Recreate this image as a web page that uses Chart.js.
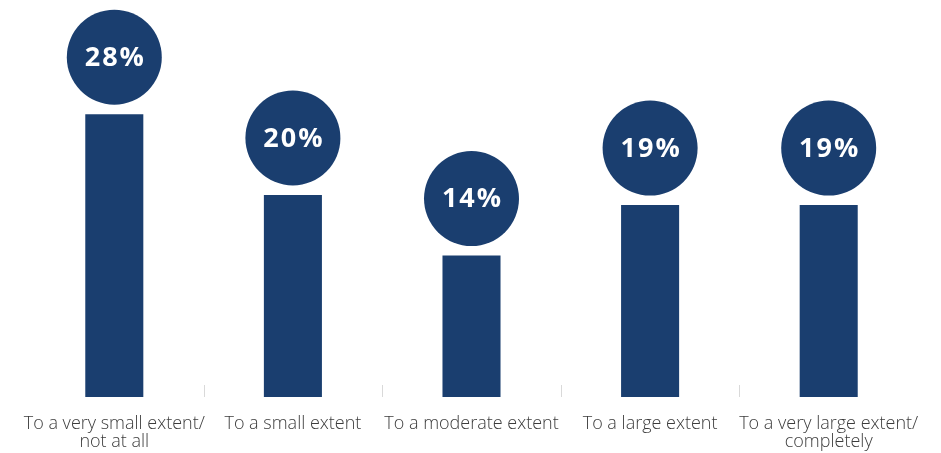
<!DOCTYPE html>
<html>
<head>
<meta charset="utf-8">
<script src="https://cdn.jsdelivr.net/npm/chart.js@4"></script>
<style>
  html, body { margin: 0; padding: 0; background: #ffffff; }
  #wrap { width: 941px; height: 453px; }
</style>
</head>
<body>
<div id="wrap"><canvas id="chart"></canvas></div>
<script>
// data
const categories = [
  ["To a very small extent/", "not at all"],
  "To a small extent",
  "To a moderate extent",
  "To a large extent",
  ["To a very large extent/", "completely"]
];
const shares = [28, 20, 14, 19, 19];
const shareLabels = ["28%", "20%", "14%", "19%", "19%"];

const navy = "#1a3e6f";

// circle badge with the percentage above each bar
const badgePlugin = {
  id: "badges",
  afterDatasetsDraw(chart) {
    const ctx = chart.ctx;
    const bars = chart.getDatasetMeta(0).data;
    ctx.save();
    for (let i = 0; i < bars.length; i++) {
      let b = bars[i];
      let cy = b.y - 57;
      ctx.beginPath();
      ctx.arc(b.x, cy, 47.5, 0, Math.PI * 2);
      ctx.fillStyle = navy;
      ctx.fill();
      ctx.fillStyle = "#ffffff";
      ctx.font = "bold 27px 'Open Sans'";
      ctx.letterSpacing = "2px";
      ctx.textAlign = "center";
      ctx.textBaseline = "middle";
      ctx.fillText(shareLabels[i], b.x + 1, cy + 1);
    }
    ctx.restore();
  }
};

// small grey separators between the categories
const sepPlugin = {
  id: "separators",
  afterDraw(chart) {
    const ctx = chart.ctx;
    const x = chart.scales.x;
    const bottom = chart.chartArea.bottom;
    ctx.save();
    ctx.strokeStyle = "#d9d9d9";
    ctx.lineWidth = 1;
    for (let i = 0; i < categories.length - 1; i++) {
      let px = Math.round((x.getPixelForValue(i) + x.getPixelForValue(i + 1)) / 2) + 0.5;
      ctx.beginPath();
      ctx.moveTo(px, bottom - 12);
      ctx.lineTo(px, bottom);
      ctx.stroke();
    }
    ctx.restore();
  }
};

new Chart(document.getElementById("chart"), {
  type: "bar",
  data: {
    labels: categories,
    datasets: [{
      data: shares,
      backgroundColor: navy,
      barPercentage: 0.325,
      categoryPercentage: 1
    }]
  },
  options: {
    responsive: true,
    maintainAspectRatio: false,
    animation: false,
    layout: { padding: { left: 25, right: 23, top: 0, bottom: 0 } },
    scales: {
      x: {
        grid: { display: false },
        border: { display: false },
        ticks: {
          color: "#3c3c3c",
          font: { family: "'Open Sans'", size: 18, weight: 300, lineHeight: 1.05 },
          padding: 9,
          maxRotation: 0,
          autoSkip: false
        },
        afterFit(scale) { scale.height = 56; }
      },
      y: {
        display: false,
        min: 0,
        max: 39.3
      }
    },
    plugins: {
      legend: { display: false },
      tooltip: { enabled: false }
    }
  },
  plugins: [badgePlugin, sepPlugin]
});
</script>
</body>
</html>
